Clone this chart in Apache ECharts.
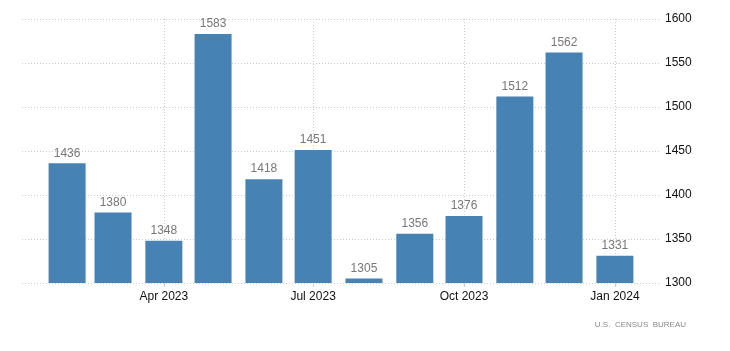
<!DOCTYPE html>
<html>
<head>
<meta charset="utf-8">
<script src="https://cdn.jsdelivr.net/npm/echarts@6/dist/echarts.min.js"></script>
<style>
  html, body { margin: 0; padding: 0; background: #fff; }
  #main { width: 730px; height: 351px; }
</style>
</head>
<body>
<div id="main"></div>
<script>
// monthly values, Feb 2023 - Jan 2024
const months = ['2023-02-01', '2023-03-01', '2023-04-01', '2023-05-01', '2023-06-01', '2023-07-01',
  '2023-08-01', '2023-09-01', '2023-10-01', '2023-11-01', '2023-12-01', '2024-01-01'];
const values = [1436, 1380, 1348, 1583, 1418, 1451, 1305, 1356, 1376, 1512, 1562, 1331];
const tickMonths = ['2023-04-01', '2023-07-01', '2023-10-01', '2024-01-01'];
const tickLabels = ['Apr 2023', 'Jul 2023', 'Oct 2023', 'Jan 2024'];

const toTs = (s) => {
  const p = s.split('-').map(Number);
  return Date.UTC(p[0], p[1] - 1, p[2]);
};
const DAY = 86400000;
const xs = months.map(toTs);
const tickTs = tickMonths.map(toTs);
const labelFor = {};
tickTs.forEach((t, i) => { labelFor[t] = tickLabels[i]; });

const chart = echarts.init(document.getElementById('main'));
chart.setOption({
  animation: false,
  grid: { left: 22, right: 70, top: 19, bottom: 68 },
  xAxis: {
    type: 'value',
    min: xs[0] - 27.5 * DAY,
    max: xs[xs.length - 1] + 27.5 * DAY,
    axisLine: { show: false },
    axisTick: { show: true, customValues: tickTs, length: 4, lineStyle: { color: '#ccc' } },
    axisLabel: {
      customValues: tickTs,
      formatter: (v) => labelFor[v] || '',
      color: '#111',
      fontFamily: 'Liberation Sans, Arial, sans-serif',
      fontSize: 12,
      margin: 8
    },
    splitLine: { show: true, lineStyle: { color: '#ccc', type: [1, 2] } }
  },
  yAxis: {
    type: 'value',
    position: 'right',
    min: 1300,
    max: 1600,
    interval: 50,
    axisLine: { show: false },
    axisTick: { show: false },
    axisLabel: {
      formatter: (v) => String(v),
      color: '#111',
      fontFamily: 'Liberation Sans, Arial, sans-serif',
      fontSize: 12,
      margin: 5
    },
    splitLine: { show: true, lineStyle: { color: '#ccc', type: [1, 2] } }
  },
  graphic: [{
    type: 'text',
    right: 44,
    top: 321,
    style: {
      text: 'U.S.  CENSUS  BUREAU',
      fill: '#888',
      font: '8px Liberation Sans, Arial, sans-serif'
    }
  }],
  series: [{
    type: 'bar',
    barWidth: 37,
    data: xs.map((t, i) => [t, values[i]]),
    itemStyle: { color: '#4682B4' },
    label: {
      show: true,
      position: 'top',
      distance: 4,
      color: '#777',
      fontFamily: 'Liberation Sans, Arial, sans-serif',
      fontSize: 12
    }
  }]
});
</script>
</body>
</html>
